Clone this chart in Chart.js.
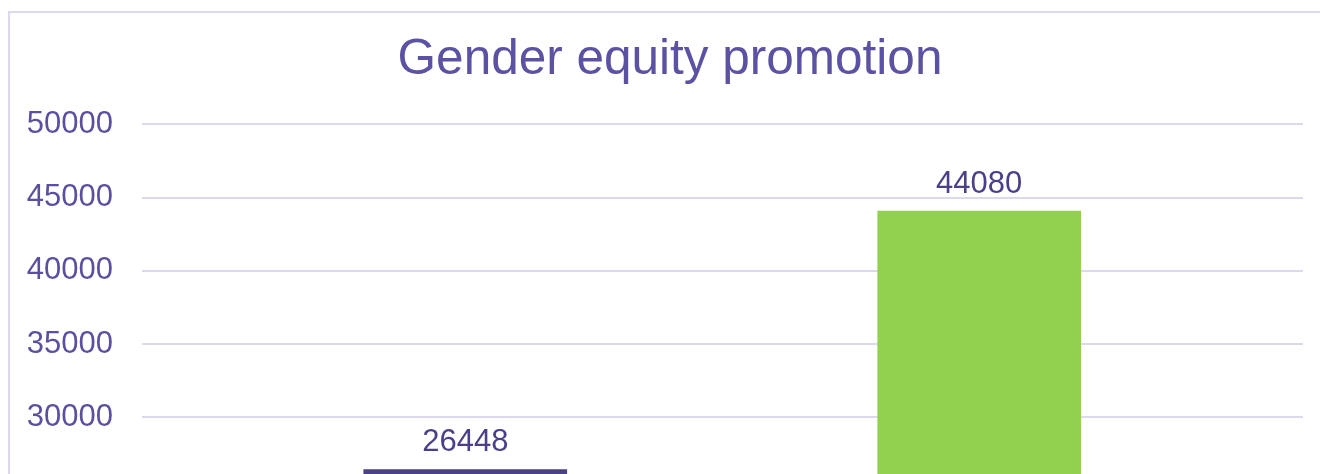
<!DOCTYPE html>
<html>
<head>
<meta charset="utf-8">
<script src="https://cdn.jsdelivr.net/npm/chart.js@4"></script>
<style>
    html, body { margin: 0; padding: 0; overflow: hidden; background: #fff; width: 1320px; height: 474px; }
    #marco {
        position: relative;
        width: 1320px;
        height: 474px;
        overflow: hidden;
    }
    #caja {
        position: absolute;
        left: 8px;
        top: 11px;
        width: 1320px;
        height: 900px;
        border: 2px solid #dcd9ee;
    }
    #grafico {
        display: block;
        width: 1320px;
        height: 900px;
    }
</style>
</head>
<body>
<div id="marco">
    <div id="caja">
        <canvas id="grafico" width="1320" height="900"></canvas>
    </div>
</div>
<script>
// datos del gráfico
const categorias = ['Category 1', 'Category 2'];
const valores = [26448, 44080];
const colores = ['#4b4186', '#92d050'];
const ticksY = [0, 5000, 10000, 15000, 20000, 25000, 30000, 35000, 40000, 45000, 50000];

const fuente = '"Liberation Sans", Arial, sans-serif';

// etiquetas encima de cada barra
const etiquetas = {
    id: 'etiquetas',
    afterDatasetsDraw(chart) {
        const ctx = chart.ctx;
        const meta = chart.getDatasetMeta(0);
        ctx.save();
        ctx.font = '31px ' + fuente;
        ctx.fillStyle = '#4a3f88';
        ctx.textAlign = 'center';
        ctx.textBaseline = 'alphabetic';
        meta.data.forEach((bar, i) => {
            ctx.fillText(String(valores[i]), bar.x, bar.y - 18);
        });
        ctx.restore();
    }
};

document.addEventListener('DOMContentLoaded', function() {
    const ctx = document.getElementById('grafico').getContext('2d');
    new Chart(ctx, {
        type: 'bar',
        data: {
            datasets: [{
                label: 'Gender equity promotion',
                data: valores.map((v, i) => ({ x: i, y: v })),
                backgroundColor: colores,
                borderWidth: 0,
                barThickness: 203
            }]
        },
        options: {
            responsive: false,
            animation: false,
            layout: {
                padding: { left: 10, right: 10, top: 0, bottom: 56 }
            },
            plugins: {
                legend: { display: false },
                tooltip: { enabled: false },
                title: {
                    display: true,
                    text: 'Gender equity promotion',
                    color: '#5c52a3',
                    font: { family: fuente, size: 49.5, weight: 'normal' },
                    padding: { top: 18, bottom: 34 }
                }
            },
            scales: {
                x: {
                    type: 'linear',
                    offset: false,
                    min: -0.629,
                    max: 1.630,
                    display: false,
                    ticks: { callback: v => categorias[v] || '' }
                },
                y: {
                    min: ticksY[0],
                    max: ticksY[ticksY.length - 1],
                    afterFit: scale => { scale.width = 122; },
                    afterBuildTicks: scale => { scale.ticks = ticksY.map(v => ({ value: v })); },
                    border: { display: false },
                    grid: {
                        color: '#dcd9ee',
                        lineWidth: 2,
                        drawTicks: false
                    },
                    ticks: {
                        padding: 29,
                        color: '#5b50a0',
                        font: { family: fuente, size: 31 },
                        callback: v => String(v)
                    }
                },
                // eje vacío a la derecha, solo para dejar margen
                margen: {
                    type: 'linear',
                    position: 'right',
                    afterFit: scale => { scale.width = 17; },
                    border: { display: false },
                    grid: { display: false },
                    ticks: { display: false }
                }
            }
        },
        plugins: [etiquetas]
    });
});
</script>
</body>
</html>
